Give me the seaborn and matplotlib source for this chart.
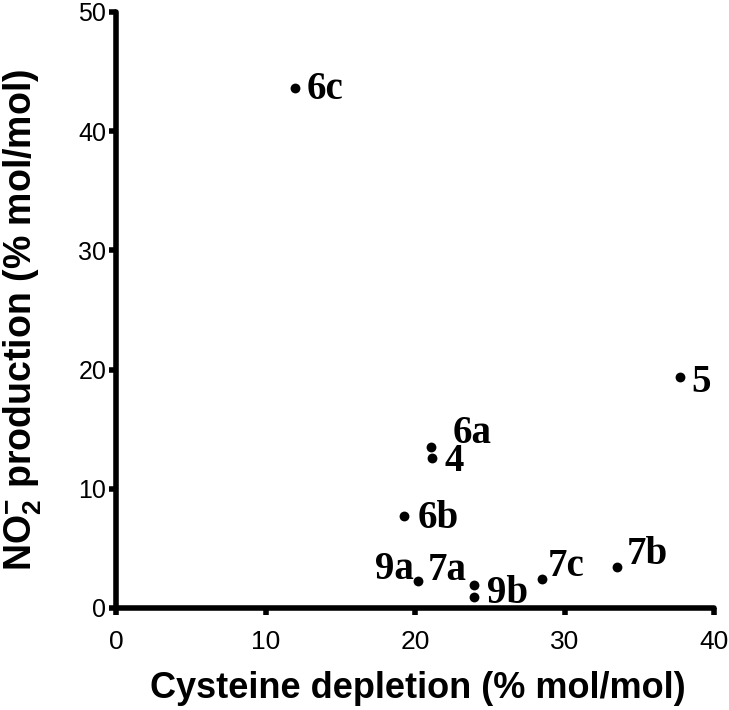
import numpy as np
import matplotlib
matplotlib.use("Agg")
import matplotlib.pyplot as plt
import seaborn as sns
import pandas as pd

# values
compounds = ["6c", "5", "6a", "4", "6b", "9a", "7a", "9b", "7c", "7b"]
cys_depletion = [12.0, 37.7, 21.05, 21.1, 19.25, 20.2, 23.9, 23.9, 28.5, 33.5]
no2_production = [43.6, 19.4, 13.5, 12.6, 7.7, 2.3, 1.9, 0.9, 2.4, 3.4]

# label offsets in points (dx, dy) and horizontal alignment
label_offsets = {
    "6c": (8, -1, "left"),
    "5": (8, -4, "left"),
    "6a": (16, 10, "left"),
    "4": (9, -3, "left"),
    "6b": (10, -2, "left"),
    "9a": (-3, 8, "right"),
    "7a": (-33, 11, "left"),
    "9b": (10, 3, "left"),
    "7c": (4, 9, "left"),
    "7b": (7, 9, "left"),
}

df = pd.DataFrame({"compound": compounds, "cys": cys_depletion, "no2": no2_production})

sns.set_theme(style="ticks")
plt.rcParams["font.family"] = ["Liberation Sans", "DejaVu Sans"]
plt.rcParams["mathtext.fontset"] = "custom"
plt.rcParams["mathtext.rm"] = "Liberation Sans:bold"
plt.rcParams["mathtext.bf"] = "Liberation Sans:bold"

fig = plt.figure(figsize=(7.29, 7.10), dpi=100)
ax = fig.add_axes([0.159, 0.1437, 0.821, 0.8394])

sns.scatterplot(data=df, x="cys", y="no2", color="black", s=50,
                edgecolor="black", linewidth=0, ax=ax, clip_on=False, zorder=3)

for _, row in df.iterrows():
    dx, dy, ha = label_offsets[row["compound"]]
    ax.annotate(row["compound"], (row["cys"], row["no2"]),
                xytext=(dx, dy), textcoords="offset points",
                ha=ha, va="center", fontsize=28, fontweight="bold",
                family="Liberation Serif", color="black")

ax.set_xlim(0, 40)
ax.set_ylim(0, 50)
ax.set_xticks([0, 10, 20, 30, 40])
ax.set_yticks([0, 10, 20, 30, 40, 50])

sns.despine(ax=ax)
for side in ["left", "bottom"]:
    ax.spines[side].set_linewidth(4)
    ax.spines[side].set_color("black")
    ax.spines[side].set_capstyle("round")
ax.tick_params(axis="both", direction="out", length=5, width=4,
               colors="black", labelcolor="black")
ax.tick_params(axis="x", labelsize=19, pad=11)
ax.tick_params(axis="y", labelsize=18, pad=2)

ax.set_xlabel("Cysteine depletion (% mol/mol)", fontsize=26, fontweight="bold",
              color="black")
ax.set_ylabel(r"NO$_{2}^{-}$ production (% mol/mol)", fontsize=27, fontweight="bold",
              color="black")
ax.xaxis.set_label_coords(0.505, -0.105)
ax.yaxis.set_label_coords(-0.12, 0.483)

fig.savefig("out.png", dpi=100)
plt.close(fig)
